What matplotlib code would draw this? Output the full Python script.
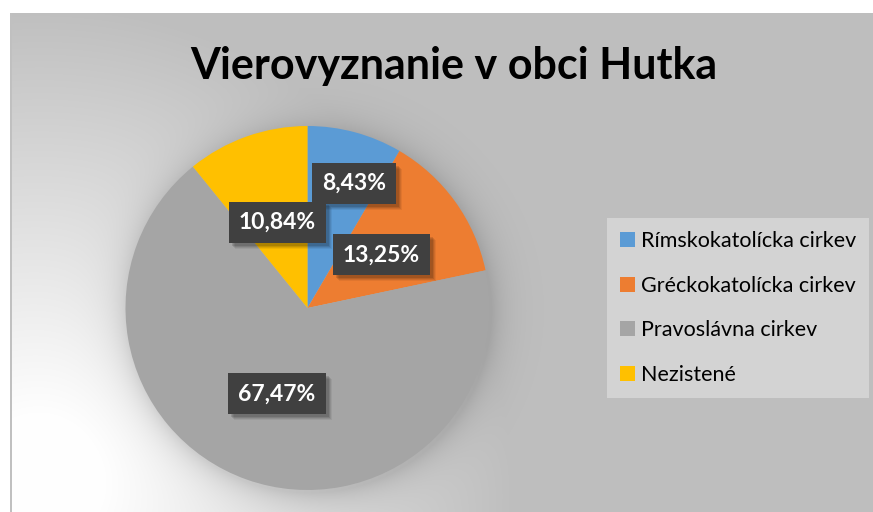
import numpy as np
import matplotlib
matplotlib.use('Agg')
import matplotlib.pyplot as plt
from matplotlib.patches import Rectangle

# ---- data ----
categories = ['Rímskokatolícka cirkev', 'Gréckokatolícka cirkev', 'Pravoslávna cirkev', 'Nezistené']
values = [8.43, 13.25, 67.47, 10.84]
pct_labels = ['8,43%', '13,25%', '67,47%', '10,84%']
colors = ['#5B9BD5', '#ED7D31', '#A5A5A5', '#FFC000']
title = 'Vierovyznanie v obci Hutka'

W, H = 873, 512
fig = plt.figure(figsize=(W / 100, H / 100), dpi=100)
ax = fig.add_axes([0, 0, 1, 1])
ax.axis('off')

# ---- background (chart area gradient + pie shadow) ----
cx, cy_img, R = 307.5, 308.0, 182.0
yy, xx = np.mgrid[0:H, 0:W] + 0.5
base = 191.0
d = np.hypot(xx - 40, yy - 480)
t = np.clip(1 - d / 470, 0, 1) ** 1.0
img = base + (255 - base) * np.clip(t * 1.15, 0, 1)
dp = np.hypot(xx - cx - 2, yy - cy_img - 3)
out = np.clip(dp - R, 0, None)
shadow = np.exp(-out / 16.0)
img = img * (1 - 0.14 * shadow)
img[:13, :] = 255
img[:, :10] = 255
img[13:, 10:12] = 192
rgb = np.clip(np.dstack([img] * 3) / 255.0, 0, 1)
ax.imshow(rgb, extent=(0, W, 0, H), origin='upper', zorder=0,
          interpolation='bilinear', aspect='auto')

# ---- pie ----
wedges, _ = ax.pie(values, colors=colors, startangle=90, counterclock=False,
                   center=(cx, H - cy_img), radius=R,
                   wedgeprops=dict(linewidth=0), frame=True)
ax.set_xlim(0, W)
ax.set_ylim(0, H)
ax.set_aspect('auto')
ax.axis('off')

# ---- data labels ----
label_r = [0.73, 0.50, 0.50, 0.50]
label_shift = [-5.4, 0.0, 0.0, 0.0]
lab_font = dict(family=['Lato', 'DejaVu Sans'], weight='bold', size=16.5, color='white')
texts = []
for w, lab, rf, sh in zip(wedges, pct_labels, label_r, label_shift):
    ang = np.deg2rad((w.theta1 + w.theta2) / 2 + sh)
    x = cx + rf * R * np.cos(ang)
    y = (H - cy_img) + rf * R * np.sin(ang)
    tx = ax.text(x, y, lab, ha='center', va='center', zorder=6, **lab_font)
    texts.append((tx, x, y))

fig.canvas.draw()
renderer = fig.canvas.get_renderer()
for tx, x, y in texts:
    bb = tx.get_window_extent(renderer)
    bw = bb.width + 20
    bh = 41
    for k, a in [(6, 0.06), (5, 0.08), (4, 0.10), (3, 0.12)]:
        ax.add_patch(Rectangle((x - bw / 2 + k, y - bh / 2 - k), bw, bh,
                               facecolor='black', alpha=a, edgecolor='none', zorder=4))
    ax.add_patch(Rectangle((x - bw / 2, y - bh / 2), bw, bh,
                           facecolor='#404040', edgecolor='none', zorder=5))

# ---- title ----
ax.text(453.5, H - 66, title, ha='center', va='center', zorder=6,
        family=['Lato', 'DejaVu Sans'], weight='bold', size=31, color='black')

# ---- legend ----
leg = ax.legend(wedges, categories, loc='upper left',
                bbox_to_anchor=(607 / W, 1 - 218 / H), bbox_transform=fig.transFigure,
                prop=dict(family=['Lato', 'DejaVu Sans'], size=15.5),
                frameon=True, fancybox=False, shadow=False,
                facecolor='#D3D3D3', edgecolor='none', framealpha=1,
                handlelength=0.68, handleheight=0.68, handletextpad=0.3,
                labelspacing=1.15, borderpad=0.6, borderaxespad=0)
leg.set_zorder(7)

fig.savefig('out.png', dpi=100)
